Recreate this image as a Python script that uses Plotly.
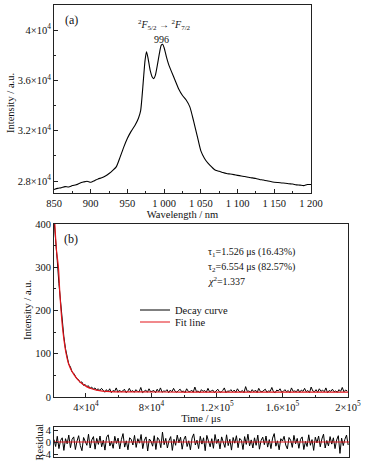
import plotly.graph_objects as go

W, H = 368, 468
FONT = "Liberation Serif"
AX = "#222222"

# ---------------- Panel (a): emission spectrum ----------------
wavelength = [850, 855, 860, 865, 870, 875, 880, 885, 890, 895, 900, 905, 910, 915, 920,
              925, 930, 935, 940, 945, 950, 955, 960, 965, 968, 971, 974, 976, 978, 981,
              984, 986, 988, 991, 994, 996, 998, 1000, 1003, 1006, 1010, 1015, 1020, 1025,
              1030, 1035, 1040, 1045, 1050, 1055, 1060, 1065, 1070, 1075, 1080, 1085, 1090,
              1095, 1100, 1105, 1110, 1115, 1120, 1125, 1130, 1135, 1140, 1145, 1150, 1155,
              1160, 1165, 1170, 1175, 1180, 1185, 1190, 1195, 1200]
intensity = [27330, 27420, 27470, 27560, 27530, 27640, 27700, 27830, 27920, 27990, 27900,
             28030, 28170, 28260, 28400, 28600, 28850, 29150, 29900, 30700, 31400, 31950,
             32400, 33000, 33600, 35500, 37600, 38280, 37800, 36800, 36250, 36150, 36400,
             37300, 38300, 38800, 38880, 38600, 37900, 37300, 36700, 36000, 35300, 34800,
             34450, 33900, 32800, 31600, 30400, 29800, 29400, 29100, 28850, 28780, 28680,
             28600, 28560, 28510, 28450, 28400, 28360, 28300, 28250, 28200, 28130, 28080,
             28020, 27960, 27910, 27880, 27850, 27830, 27790, 27760, 27700, 27680, 27640,
             27720, 27730]
a_xticks = [850, 900, 950, 1000, 1050, 1100, 1150, 1200]
a_xticklabels = ["850", "900", "950", "1 000", "1 050", "1 100", "1 150", "1 200"]
a_yticks = [28000, 32000, 36000, 40000]
a_yticklabels = ["2.8×10<sup>4</sup>", "3.2×10<sup>4</sup>", "3.6×10<sup>4</sup>", "4×10<sup>4</sup>"]

# ---------------- Panel (b): decay curve ----------------
time = [20500 + 1000 * i for i in range(180)]
decay = [410, 370, 315, 262, 218, 165, 140, 112, 90, 76,
         70, 58, 55, 49, 42, 40, 33, 35, 27, 29,
         24, 26, 20, 23, 18, 21, 16, 19, 15, 20,
         14, 11, 17, 12, 19, 10, 15, 13, 21, 11,
         16, 12, 14, 18, 10, 13, 20, 12, 15, 11,
         17, 13, 12, 22, 10, 14, 16, 11, 19, 12,
         13, 15, 10, 18, 12, 21, 11, 14, 13, 17,
         10, 16, 12, 20, 13, 11, 15, 18, 12, 14,
         10, 19, 13, 12, 16, 11, 23, 12, 14, 10,
         17, 13, 15, 11, 20, 12, 14, 16, 10, 13,
         18, 12, 11, 15, 21, 10, 14, 13, 17, 12,
         16, 11, 19, 13, 12, 15, 10, 24, 13, 14,
         11, 17, 12, 16, 10, 20, 13, 12, 15, 18,
         11, 14, 13, 22, 12, 10, 16, 14, 19, 11,
         13, 17, 12, 15, 10, 21, 13, 14, 12, 18,
         11, 16, 13, 20, 12, 15, 10, 23, 14, 12,
         17, 11, 19, 13, 16, 12, 21, 10, 15, 13,
         18, 12, 14, 11, 17, 13, 22, 12, 16, 14]
fit_time = [20600, 21200, 22000, 23200, 24000, 24800, 26000, 27900, 29300, 30900,
            33000, 35000, 37500, 40400, 43500, 46500, 50000, 55000, 60000, 70000,
            100000, 150000, 200000]
fit_value = [430, 386, 340, 300, 245, 200, 150, 100, 78, 63,
             50, 40, 31, 24, 19, 16, 13.8, 12.5, 12, 11.7,
             11.5, 11.5, 11.5]
b_xticks = [40000, 80000, 120000, 160000, 200000]
b_xticklabels = ["4×10<sup>4</sup>", "8×10<sup>4</sup>", "1.2×10<sup>5</sup>",
                 "1.6×10<sup>5</sup>", "2×10<sup>5</sup>"]
b_yticks = [0, 100, 200, 300, 400]

# ---------------- Residual panel ----------------
residual = [0.8, -1.5, 1.9, -2.2, 0.5, 1.4, -2.8, 1.1, -0.6, 2.3,
            -1.9, 0.9, 1.7, -2.5, 0.3, 2.1, -1.2, -2.9, 1.5, 0.4,
            -1.1, 2.6, -2.0, 0.7, 1.8, -2.4, 1.2, -0.8, 2.0, -1.6,
            0.6, -2.7, 1.6, 2.4, -1.3, 0.2, -2.1, 1.9, -0.5, 1.3,
            -2.3, 0.8, 2.8, -1.7, 0.4, -2.6, 1.4, 0.9, -1.0, 2.2,
            -1.8, 1.1, -0.4, 2.5, -2.2, 0.6, 1.7, -3.0, 1.0, 0.3,
            -1.4, 2.1, -2.5, 1.5, 0.7, -1.9, 3.3, -0.9, 1.2, -2.0,
            0.5, 1.8, -2.8, 0.9, -1.1, 2.3, -0.3, 1.6, -2.4, 0.8,
            2.0, -1.5, 0.4, -2.6, 1.3, 2.7, -1.0, 0.6, -2.2, 1.9,
            -0.7, 1.4, -2.9, 2.2, 0.3, -1.6, 1.1, -2.1, 2.5, -0.5,
            1.0, -2.3, 1.7, 0.2, -1.8, 2.4, -1.2, 0.9, -2.7, 1.5,
            -0.4, 2.1, -1.9, 1.2, 0.6, -2.5, 1.8, -0.8, 2.6, -1.3,
            0.7, -2.0, 1.4, -1.1, 2.3, -2.4, 0.5, 1.6, -0.9, 2.0,
            -1.7, 0.8, -2.2, 1.3, 2.8, -1.4, 0.4, -2.6, 1.1, 0.3,
            1.9, -1.0, -2.3, 1.5, 0.6, -1.8, 2.2, -0.6, 1.2, -2.1,
            0.9, 1.7, -2.5, 0.2, -1.5, 2.4, -1.1, 0.8, -2.8, 1.6,
            -0.3, 2.0, -1.6, 1.0, 2.6, -2.0, 0.5, -1.3, 1.8, -0.7,
            1.4, -2.2, 0.7, 2.1, -3.8, 1.3, -1.2, 0.9, 2.3, -1.0]
res_fit_time = [20500, 200000]
res_fit_value = [0, 0]
r_yticks = [-4, 0, 4]
r_yticklabels = ["-4", "0", "4"]


def px_x(a, b):
    return [a / W, b / W]


def px_y(top, bottom):
    return [1 - bottom / H, 1 - top / H]


def axis(**kw):
    base = dict(showline=True, linecolor=AX, linewidth=1, mirror=True,
                ticks="inside", ticklen=4, tickwidth=1, tickcolor=AX,
                showgrid=False, zeroline=False, automargin=True,
                tickfont=dict(family=FONT, size=10.5, color="#111"),
                title_font=dict(family=FONT, size=10.5, color="#111"))
    base.update(kw)
    return base


fig = go.Figure()
fig.add_trace(go.Scatter(x=wavelength, y=intensity, mode="lines",
                         line=dict(color="black", width=1.1, shape="spline", smoothing=0.6),
                         showlegend=False, xaxis="x", yaxis="y"))
fig.add_trace(go.Scatter(x=time, y=decay, mode="lines", name="Decay curve",
                         line=dict(color="black", width=1), xaxis="x2", yaxis="y2",
                         legend="legend"))
fig.add_trace(go.Scatter(x=fit_time, y=fit_value, mode="lines", name="Fit line",
                         line=dict(color="#e3141b", width=1.2, shape="spline", smoothing=0.8),
                         xaxis="x2", yaxis="y2", legend="legend2"))
fig.add_trace(go.Scatter(x=time, y=residual, mode="lines", showlegend=False,
                         line=dict(color="black", width=1), xaxis="x3", yaxis="y3"))
fig.add_trace(go.Scatter(x=res_fit_time, y=res_fit_value, mode="lines", showlegend=False,
                         line=dict(color="#e3141b", width=1.2), xaxis="x3", yaxis="y3"))

leg_common = dict(xanchor="left", yanchor="middle", bgcolor="rgba(0,0,0,0)",
                  font=dict(family=FONT, size=10.5, color="#111"))

fig.update_layout(
    width=W, height=H,
    margin=dict(l=0, r=0, t=0, b=0, autoexpand=False),
    paper_bgcolor="white", plot_bgcolor="white",
    font=dict(family=FONT, size=10, color="#111"),
    xaxis=axis(domain=px_x(54, 311), anchor="y", range=[850, 1200],
               tickmode="array", tickvals=a_xticks, ticktext=a_xticklabels,
               minor=dict(ticks="inside", ticklen=2, tick0=850, dtick=25, tickcolor=AX),
               title=dict(text="Wavelength / nm", standoff=2)),
    yaxis=axis(domain=px_y(5, 193), anchor="x", range=[27050, 42000],
               tickmode="array", tickvals=a_yticks, ticktext=a_yticklabels,
               minor=dict(ticks="inside", ticklen=2, tick0=26000, dtick=2000, tickcolor=AX)),
    xaxis2=axis(domain=px_x(54, 348), anchor="y2", range=[20500, 200000],
                tickmode="array", tickvals=b_xticks, ticktext=b_xticklabels,
                minor=dict(ticks="inside", ticklen=2, tick0=0, dtick=20000, tickcolor=AX),
                title=dict(text="Time / μs", standoff=0)),
    yaxis2=axis(domain=px_y(224, 397), anchor="x2", range=[0, 400],
                tickmode="array", tickvals=b_yticks,
                minor=dict(ticks="inside", ticklen=2, tick0=0, dtick=50, tickcolor=AX)),
    xaxis3=axis(domain=px_x(54, 349), anchor="y3", range=[20500, 200000],
                showticklabels=False, ticks=""),
    yaxis3=axis(domain=px_y(427, 457), anchor="x3", range=[-5, 5],
                tickmode="array", tickvals=r_yticks, ticktext=r_yticklabels),
    legend=dict(x=135 / W, y=1 - 310 / H, **leg_common),
    legend2=dict(x=135 / W, y=1 - 322 / H, **leg_common),
)

title_font = dict(family=FONT, size=10.5, color="#111")
ann = [
    # y-axis titles
    dict(text="Intensity / a.u.", x=10 / W, y=1 - 103 / H, xref="paper", yref="paper",
         textangle=-90, xanchor="center", yanchor="middle", showarrow=False, font=title_font),
    dict(text="Intensity / a.u.", x=27 / W, y=1 - 310 / H, xref="paper", yref="paper",
         textangle=-90, xanchor="center", yanchor="middle", showarrow=False, font=title_font),
    dict(text="Residual", x=31 / W, y=1 - 442 / H, xref="paper", yref="paper",
         textangle=-90, xanchor="left", yanchor="middle", showarrow=False, font=title_font),
    # panel texts
    dict(text="(a)", x=71 / W, y=1 - 20 / H, xref="paper", yref="paper",
         xanchor="center", yanchor="middle", showarrow=False, font=dict(size=12)),
    dict(text="<sup>2</sup><i>F</i><sub>5/2</sub> → <sup>2</sup><i>F</i><sub>7/2</sub>",
         x=1001, y=40400, xref="x", yref="y", xanchor="center", yanchor="middle",
         showarrow=False, font=dict(size=10)),
    dict(text="996", x=996, y=39250, xref="x", yref="y", xanchor="center", yanchor="middle",
         showarrow=False, font=dict(size=10)),
    dict(text="(b)", x=71 / W, y=1 - 239 / H, xref="paper", yref="paper",
         xanchor="center", yanchor="middle", showarrow=False, font=dict(size=12)),
    dict(text="τ<sub>1</sub>=1.526 μs (16.43%)", x=206 / W, y=1 - 253 / H,
         xref="paper", yref="paper", xanchor="left", yanchor="middle", showarrow=False,
         font=dict(size=10)),
    dict(text="τ<sub>2</sub>=6.554 μs (82.57%)", x=206 / W, y=1 - 267 / H,
         xref="paper", yref="paper", xanchor="left", yanchor="middle", showarrow=False,
         font=dict(size=10)),
    dict(text="<i>χ</i><sup>2</sup>=1.337", x=206 / W, y=1 - 281 / H,
         xref="paper", yref="paper", xanchor="left", yanchor="middle", showarrow=False,
         font=dict(size=10)),
]
fig.update_layout(annotations=ann)

fig.write_html("out.html", config={"displayModeBar": False},
               post_script="document.body.style.margin='0';document.body.style.overflow='hidden';")
